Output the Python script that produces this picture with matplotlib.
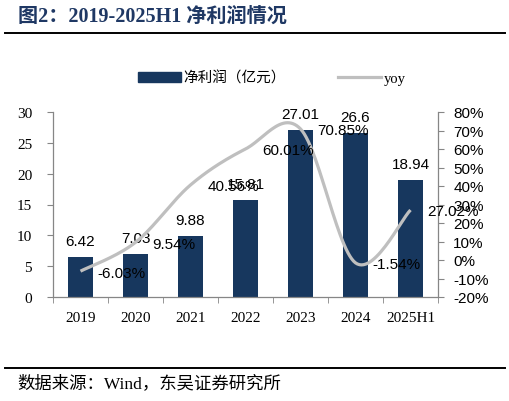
import numpy as np
import matplotlib
matplotlib.use('Agg')
import matplotlib.pyplot as plt
from matplotlib.lines import Line2D
from matplotlib.patches import Patch

plt.rcParams['font.family'] = ['Liberation Serif', 'Noto Sans CJK SC']

# данные
years = ['2019', '2020', '2021', '2022', '2023', '2024', '2025H1']
profit = [6.42, 7.03, 9.88, 15.81, 27.01, 26.6, 18.94]
yoy = [-6.03, 9.54, 40.56, 60.01, 70.85, -1.54, 27.02]

BAR_C = '#17375E'
LINE_C = '#BFBFBF'
AX_C = '#868686'
SANS = ['Liberation Sans', 'Noto Sans CJK SC']


def smooth(xs, ys, n=30):
    # сглаживание как в Excel (Безье по соседним точкам)
    xs = np.asarray(xs, float); ys = np.asarray(ys, float)
    px = np.r_[xs[0], xs, xs[-1]]; py = np.r_[ys[0], ys, ys[-1]]
    ox, oy = [], []
    t = np.linspace(0, 1, n)
    for i in range(1, len(px) - 2):
        p0 = np.array([px[i], py[i]]); p3 = np.array([px[i+1], py[i+1]])
        p1 = p0 + (np.array([px[i+1], py[i+1]]) - np.array([px[i-1], py[i-1]])) / 6
        p2 = p3 - (np.array([px[i+2], py[i+2]]) - np.array([px[i], py[i]])) / 6
        b = ((1-t)**3)[:, None]*p0 + (3*(1-t)**2*t)[:, None]*p1 + (3*(1-t)*t**2)[:, None]*p2 + (t**3)[:, None]*p3
        ox.extend(b[:, 0]); oy.extend(b[:, 1])
    return np.array(ox), np.array(oy)


fig = plt.figure(figsize=(5.1, 4.02), dpi=100)
ax = fig.add_axes([53/510, 1-298/402, 385/510, 185/402])
ax2 = ax.twinx()

x = np.arange(len(years))
ax.bar(x, profit, width=0.47, color=BAR_C, zorder=2)
for xi, v in zip(x, profit):
    ax.annotate(str(v), (xi, v), xytext=(0, 11.5), textcoords='offset points',
                ha='center', va='center', fontsize=11, family=SANS, zorder=5)

sx, sy = smooth(x, yoy)
ax2.plot(sx, sy, color=LINE_C, lw=2.3, solid_capstyle='butt', zorder=3)
for xi, v in zip(x, yoy):
    ax2.annotate('%.2f%%' % v, (xi, v), xytext=(12, -1), textcoords='offset points',
                 ha='left', va='center', fontsize=11, family=SANS, zorder=5)

ax.set_xlim(-0.5, 6.5)
ax.set_ylim(0, 30)
ax.set_yticks(np.arange(0, 31, 5))
ax2.set_ylim(-20, 80)
ax2.set_yticks(np.arange(-20, 81, 10))
ax2.set_yticklabels(['%d%%' % v for v in np.arange(-20, 81, 10)], family=SANS, fontsize=11)

ax.set_xticks(x)
ax.set_xticklabels(years, fontsize=11)
ax.set_xticks(np.arange(-0.5, 7, 1), minor=True)
ax.tick_params(axis='x', which='major', length=0, pad=10)
ax.tick_params(axis='x', which='minor', length=4, color=AX_C, direction='out')
ax.tick_params(axis='y', length=4, color=AX_C, pad=11, labelsize=11)
ax2.tick_params(axis='y', length=4, color=AX_C, pad=7)

for a in (ax, ax2):
    a.spines['top'].set_visible(False)
    for s in ('left', 'right', 'bottom'):
        a.spines[s].set_color(AX_C)
        a.spines[s].set_linewidth(0.9)
ax.spines['right'].set_visible(False)
ax2.spines['left'].set_visible(False)
ax2.spines['bottom'].set_visible(False)
ax2.set_zorder(ax.get_zorder() + 1)
ax2.patch.set_visible(False)

handles = [Patch(facecolor=BAR_C, edgecolor=BAR_C), Line2D([], [], color=LINE_C, lw=2.3)]
fig.legend(handles, ['净利润（亿元）', 'yoy'], loc='center', bbox_to_anchor=(272/510, 1-79/402),
           ncol=2, frameon=False, handlelength=2.9, handletextpad=0.2,
           columnspacing=3.6, prop={'family': ['Liberation Serif', 'Noto Sans CJK SC'], 'size': 10.5})

fig.text(18/510, 1-17/402, '图2：2019-2025H1 净利润情况', fontsize=14.5, fontweight='bold',
         color='#1F3864', va='center', ha='left',
         family=['Liberation Serif', 'Noto Sans CJK SC'])
fig.add_artist(Line2D([5/510, 505/510], [1-34/402, 1-34/402], color='black', lw=1.4))
fig.add_artist(Line2D([5/510, 505/510], [1-369/402, 1-369/402], color='black', lw=1.4))
fig.text(17/510, 1-384/402, '数据来源：Wind，东吴证券研究所', fontsize=12.5, va='center', ha='left',
         family=['Liberation Serif', 'Noto Sans CJK SC'])

fig.savefig('out.png', dpi=100)
